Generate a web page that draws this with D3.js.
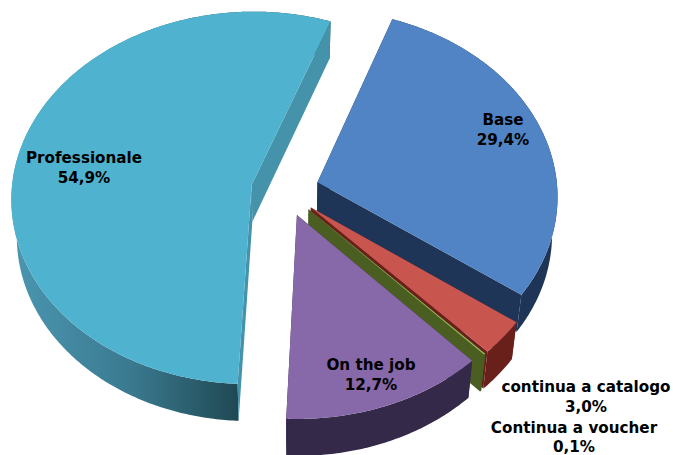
<!DOCTYPE html>
<html>
<head>
<meta charset="utf-8">
<script src="https://cdn.jsdelivr.net/npm/d3@7"></script>
<style>
  html, body { margin: 0; padding: 0; background: #fff; }
  svg { display: block; }
  text { font-family: "DejaVu Sans", Verdana, sans-serif; font-weight: bold; font-size: 15.2px; fill: #000; text-anchor: middle; }
</style>
</head>
<body>
<div id="svg-container"></div>
<script>
// data
const categories = ["Base", "continua a catalogo", "Continua a voucher", "On the job", "Professionale"];
const shares = [29.4, 3.0, 0.1, 12.7, 54.9];
const shareLabels = ["29,4%", "3,0%", "0,1%", "12,7%", "54,9%"];

// colours, same order as categories
const topColors = ["#5084c4", "#c9554f", "#9bbb59", "#8768a9", "#4fb3cf"];
const wallColors = ["#1f3557", "#6a201a", "#4a5e22", "#35294a", "url(#wallProf)"];
const edgeColors = ["#1f3557", "#6a201a", "#4a5e22", "#35294a", "#4593ab"];

const width = 673;
const height = 455;

// pie plane, seen from above with a bit of perspective
const centerX = 285;
const centerY = 190;
const radiusX = 240;
const radiusY = 186;
const persp = 0.07;
const explode = 0.142;
const depth = 37;
const floorScale = 0.98;

const svg = d3.select("#svg-container").append("svg")
  .attr("width", width)
  .attr("height", height);

const grad = svg.append("defs").append("linearGradient")
  .attr("id", "wallProf")
  .attr("gradientUnits", "userSpaceOnUse")
  .attr("x1", 20).attr("x2", 240).attr("y1", 0).attr("y2", 0);
grad.append("stop").attr("offset", 0).attr("stop-color", "#4a94ae");
grad.append("stop").attr("offset", 0.5).attr("stop-color", "#3a7a90");
grad.append("stop").attr("offset", 1).attr("stop-color", "#1f4853");

const pie = d3.pie().sort(null).value((d) => d)
  .startAngle((20 * Math.PI) / 180)
  .endAngle((380 * Math.PI) / 180);
const arcs = pie(shares);

// a = angle clockwise from 12 o'clock, r = 0..1, floor = bottom of the slab
function project(d, a, r, floor) {
  const mid = (d.startAngle + d.endAngle) / 2;
  const px = explode * Math.sin(mid) + r * Math.sin(a);
  const py = explode * Math.cos(mid) + r * Math.cos(a);
  const s = 1 / (1 + persp * py);
  const f = floor ? floorScale : 1;
  return [
    centerX + radiusX * px * s * f,
    centerY - radiusY * py * s + (floor ? depth : 0),
  ];
}

const line = d3.line();

function rim(d, floor) {
  const n = Math.max(2, Math.ceil((d.endAngle - d.startAngle) * 90));
  return d3.range(n + 1).map((i) =>
    project(d, d.startAngle + ((d.endAngle - d.startAngle) * i) / n, 1, floor));
}

const slices = svg.selectAll("g.slice").data(arcs).join("g").attr("class", "slice");

// outer wall
slices.append("path")
  .attr("d", (d) => line(rim(d, false).concat(rim(d, true).reverse())) + "Z")
  .attr("fill", (d, i) => wallColors[i]);

// cut walls
["startAngle", "endAngle"].forEach((key) => {
  slices.append("path")
    .attr("d", (d) => line([
      project(d, d[key], 0, false),
      project(d, d[key], 1, false),
      project(d, d[key], 1, true),
      project(d, d[key], 0, true),
    ]) + "Z")
    .attr("fill", (d, i) => edgeColors[i]);
});

// top face
slices.append("path")
  .attr("d", (d) => line([project(d, d.startAngle, 0, false)].concat(rim(d, false))) + "Z")
  .attr("fill", (d, i) => topColors[i]);

// labels
const labelX = [503, 586, 574, 371, 84];
const labelY = [125, 392, 433, 370, 163];
const lineGap = [20, 20, 19, 20, 20];

categories.forEach((name, i) => {
  const t = svg.append("text").attr("x", labelX[i]).attr("y", labelY[i]);
  t.append("tspan").attr("x", labelX[i]).text(name);
  t.append("tspan").attr("x", labelX[i]).attr("dy", lineGap[i]).text(shareLabels[i]);
});
</script>
</body>
</html>
